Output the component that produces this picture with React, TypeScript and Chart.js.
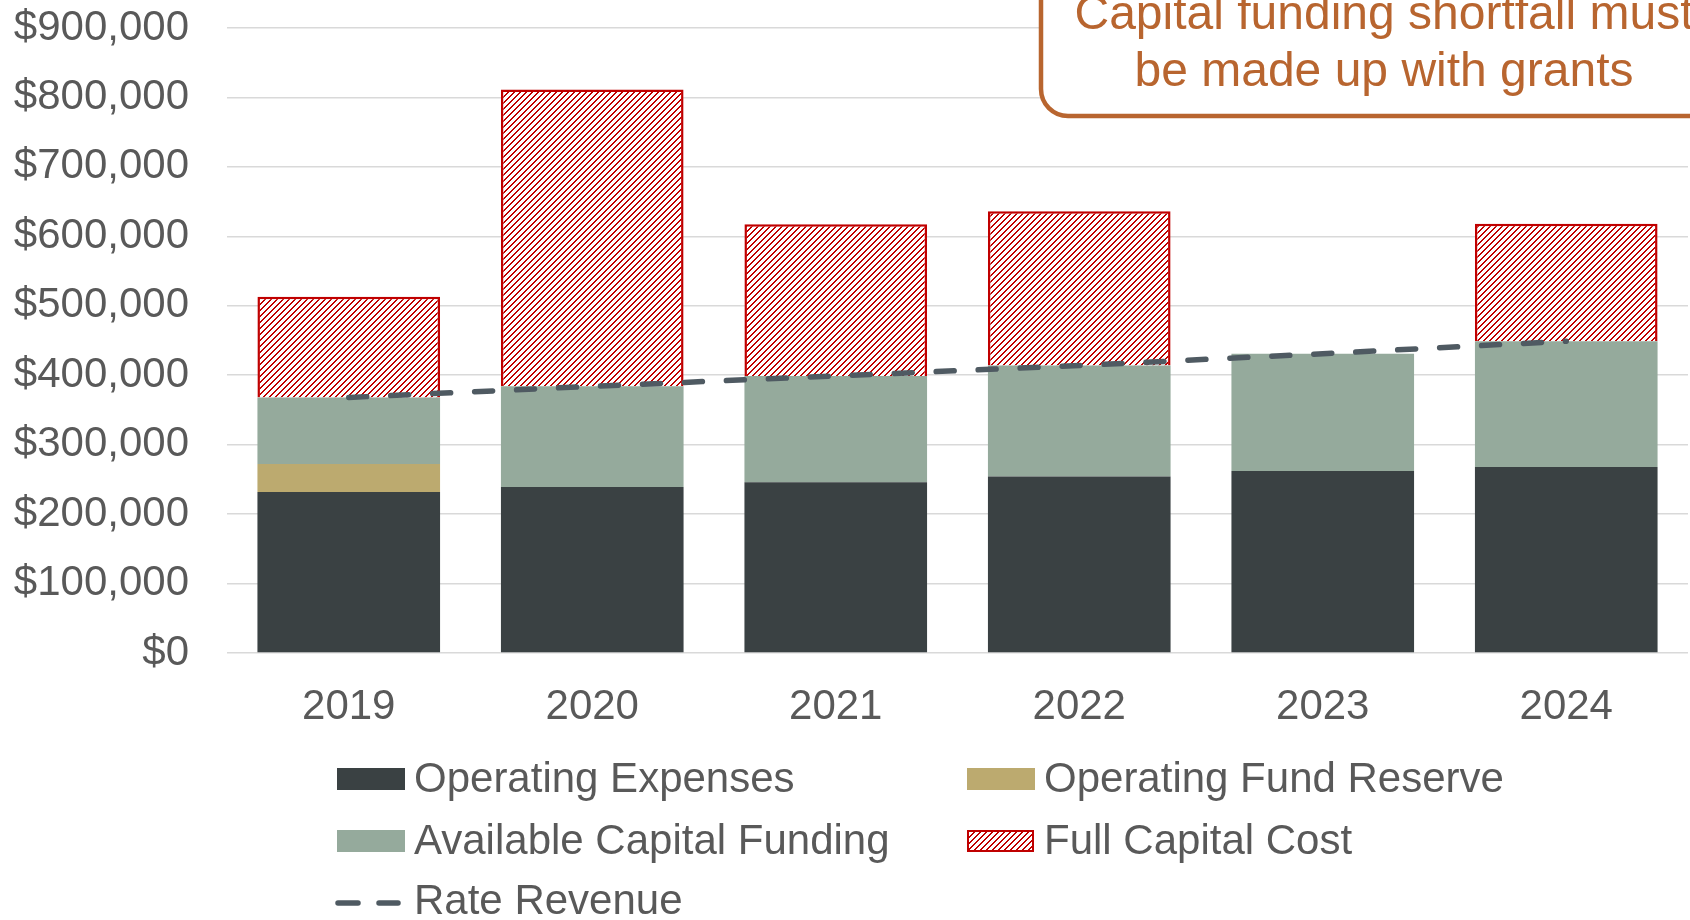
import React, { useEffect, useRef } from "react";
import { Chart, registerables } from "chart.js";

Chart.register(...registerables);

const years = ["2019", "2020", "2021", "2022", "2023", "2024"];
const operatingExpenses = [232000, 239000, 246000, 254000, 262000, 268000];
const operatingFundReserve = [40000, null, null, null, null, null];
const availableCapitalFunding = [96000, 145000, 153000, 160000, 169000, 181000];
const fullCapitalCost = [145000, 427500, 218500, 222000, null, 169000];
const rateRevenue = [368000, 384000, 399000, 414000, 431000, 449000];

const seriesNames = [
  "Operating Expenses",
  "Operating Fund Reserve",
  "Available Capital Funding",
  "Full Capital Cost",
  "Rate Revenue",
];
const noteLines = ["Capital funding shortfall must", "be made up with grants"];

const FONT = '"Liberation Sans", Arial, Helvetica, sans-serif';
const C_OPEX = "#3A4143";
const C_RES = "#BCAA6F";
const C_AVAIL = "#95AA9C";
const C_RED = "#C00000";
const C_LINE = "#4F5A62";
const C_TEXT = "#595959";
const C_NOTE = "#B8652F";

function makeHatch(): CanvasPattern | string {
  const c = document.createElement("canvas");
  c.width = 6;
  c.height = 6;
  const g = c.getContext("2d");
  if (!g) return C_RED;
  g.fillStyle = "#ffffff";
  g.fillRect(0, 0, 6, 6);
  g.fillStyle = C_RED;
  for (let i = 0; i < 6; i++) {
    g.fillRect(i, 5 - i, 1, 1);
    g.fillRect((i + 1) % 6, 5 - i, 1, 1);
  }
  return g.createPattern(c, "repeat") || C_RED;
}

export default function App() {
  const ref = useRef<HTMLCanvasElement | null>(null);

  useEffect(() => {
    if (!ref.current) return;
    const hatch = makeHatch();

    const overlay = {
      id: "overlay",
      afterDraw(chart: any) {
        const ctx = chart.ctx as CanvasRenderingContext2D;
        ctx.save();
        // annotation box
        ctx.beginPath();
        (ctx as any).roundRect(1041, -80, 800, 196, 27);
        ctx.fillStyle = "#ffffff";
        ctx.fill();
        ctx.lineWidth = 4.5;
        ctx.strokeStyle = C_NOTE;
        ctx.stroke();
        ctx.fillStyle = C_NOTE;
        ctx.font = `48px ${FONT}`;
        ctx.textAlign = "center";
        ctx.textBaseline = "alphabetic";
        ctx.fillText(noteLines[0], 1384, 29);
        ctx.fillText(noteLines[1], 1384, 86);

        // legend
        const items = [
          { name: seriesNames[0], kind: "box", fill: C_OPEX, x: 337, y: 779 },
          { name: seriesNames[1], kind: "box", fill: C_RES, x: 967, y: 779 },
          { name: seriesNames[2], kind: "box", fill: C_AVAIL, x: 337, y: 841 },
          { name: seriesNames[3], kind: "hatch", fill: hatch, x: 967, y: 841 },
          { name: seriesNames[4], kind: "line", fill: C_LINE, x: 337, y: 901 },
        ];
        ctx.font = `42px ${FONT}`;
        ctx.textAlign = "left";
        ctx.textBaseline = "middle";
        for (const it of items) {
          if (it.kind === "box") {
            ctx.fillStyle = it.fill as string;
            ctx.fillRect(it.x, it.y - 11, 68, 22);
          } else if (it.kind === "hatch") {
            ctx.fillStyle = it.fill as any;
            ctx.fillRect(it.x, it.y - 11, 67, 22);
            ctx.lineWidth = 2;
            ctx.strokeStyle = C_RED;
            ctx.strokeRect(it.x + 1, it.y - 10, 65, 20);
          } else {
            ctx.strokeStyle = C_LINE;
            ctx.lineWidth = 5.5;
            ctx.lineCap = "round";
            ctx.beginPath();
            ctx.moveTo(it.x + 1, it.y + 2);
            ctx.lineTo(it.x + 21, it.y + 2);
            ctx.moveTo(it.x + 42, it.y + 2);
            ctx.lineTo(it.x + 61, it.y + 2);
            ctx.stroke();
          }
          ctx.fillStyle = C_TEXT;
          ctx.fillText(it.name, it.x + 77, it.y + 1);
        }
        ctx.restore();
      },
    };

    const chart = new Chart(ref.current, {
      type: "bar",
      data: {
        labels: years,
        datasets: [
          {
            type: "bar",
            label: seriesNames[0],
            data: operatingExpenses,
            backgroundColor: C_OPEX,
            stack: "s",
            order: 1,
          },
          {
            type: "bar",
            label: seriesNames[1],
            data: operatingFundReserve as any,
            backgroundColor: C_RES,
            stack: "s",
            order: 1,
          },
          {
            type: "bar",
            label: seriesNames[2],
            data: availableCapitalFunding,
            backgroundColor: C_AVAIL,
            stack: "s",
            order: 1,
          },
          {
            type: "bar",
            label: seriesNames[3],
            data: fullCapitalCost as any,
            backgroundColor: hatch as any,
            borderColor: C_RED,
            borderWidth: 2.5,
            stack: "s",
            order: 1,
          },
          {
            type: "line",
            label: seriesNames[4],
            data: rateRevenue,
            borderColor: C_LINE,
            borderWidth: 5.5,
            borderDash: [18, 24],
            borderCapStyle: "round",
            pointRadius: 0,
            fill: false,
            tension: 0,
            stack: "rev",
            order: 0,
          } as any,
        ],
      },
      options: {
        responsive: false,
        animation: false,
        events: [],
        layout: { padding: { top: 28, right: 2, bottom: 0, left: 0 } },
        datasets: {
          bar: { categoryPercentage: 1, barPercentage: 0.75 },
        } as any,
        plugins: {
          legend: { display: false },
          tooltip: { enabled: false },
          title: { display: false },
        },
        scales: {
          x: {
            stacked: true,
            grid: { display: false, drawTicks: false },
            border: { display: false },
            ticks: {
              color: C_TEXT,
              font: { family: FONT, size: 42 },
              padding: 29,
              maxRotation: 0,
            },
            afterFit(scale: any) {
              scale.height = 267;
            },
          },
          y: {
            stacked: true,
            min: 0,
            max: 900000,
            grid: {
              color: "#D9D9D9",
              lineWidth: 1.5,
              drawTicks: true,
              tickLength: 38,
              tickColor: "rgba(0,0,0,0)",
            },
            border: { display: false },
            ticks: {
              stepSize: 100000,
              color: C_TEXT,
              font: { family: FONT, size: 42 },
              padding: 0,
              callback: (v: any) => "$" + Number(v).toLocaleString("en-US"),
            },
            afterFit(scale: any) {
              scale.width = 227;
            },
          },
        },
      },
      plugins: [overlay as any],
    });
    return () => chart.destroy();
  }, []);

  return (
    <div style={{ position: "fixed", left: 0, top: 0, width: 1690, height: 920, background: "#fff" }}>
      <canvas ref={ref} width={1690} height={920} style={{ display: "block" }} />
    </div>
  );
}
